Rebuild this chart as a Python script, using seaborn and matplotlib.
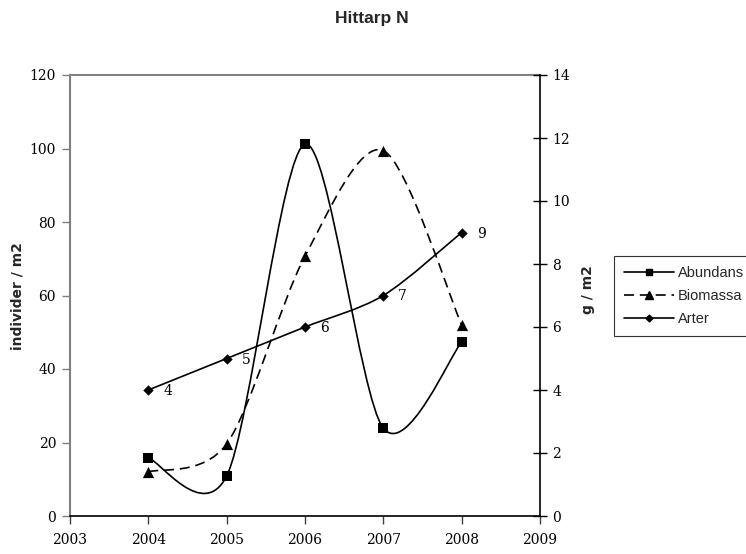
import numpy as np
import matplotlib
matplotlib.use("Agg")
import matplotlib.pyplot as plt
import seaborn as sns
from matplotlib.path import Path
from matplotlib.patches import PathPatch
from matplotlib.lines import Line2D

# ---- data ----
years = [2004, 2005, 2006, 2007, 2008]
abundans = [15.8, 10.9, 101.2, 23.9, 47.3]      # left axis (individer / m2)
biomassa = [1.40, 2.29, 8.25, 11.6, 6.06]       # right axis (g / m2)
arter = [4, 5, 6, 7, 9]                          # right axis
arter_labels = ["4", "5", "6", "7", "9"]
x_ticks = [2003, 2004, 2005, 2006, 2007, 2008, 2009]
left_ticks = [0, 20, 40, 60, 80, 100, 120]
right_ticks = [0, 2, 4, 6, 8, 10, 12, 14]
series_names = ["Abundans", "Biomassa", "Arter"]
title = "Hittarp N"

sns.set_theme(style="white")
plt.rcParams['font.family'] = ['DejaVu Sans']

W, H = 746, 554
fig = plt.figure(figsize=(W / 100, H / 100), dpi=100)
ax = fig.add_axes([70 / W, (H - 516) / H, 470 / W, 441 / H])
ax2 = ax.twinx()


def smooth_path(x, y, k=0.15):
    pts = np.column_stack([x, y]).astype(float)
    n = len(pts)
    verts = [pts[0]]
    codes = [Path.MOVETO]
    for i in range(n - 1):
        p0 = pts[i - 1] if i > 0 else pts[i]
        p1 = pts[i]
        p2 = pts[i + 1]
        p3 = pts[i + 2] if i + 2 < n else pts[i + 1]
        c1 = p1 + (p2 - p0) * k
        c2 = p2 - (p3 - p1) * k
        verts += [c1, c2, p2]
        codes += [Path.CURVE4] * 3
    return Path(verts, codes)


lw = 1.2
dash = (0, (6, 3.5))
ax.add_patch(PathPatch(smooth_path(years, abundans), fill=False, edgecolor='black', lw=lw))
ax2.add_patch(PathPatch(smooth_path(years, biomassa), fill=False, edgecolor='black', lw=lw,
                        linestyle=dash))
ax2.add_patch(PathPatch(smooth_path(years, arter), fill=False, edgecolor='black', lw=lw))

sns.scatterplot(x=years, y=abundans, marker='s', s=55, color='black', edgecolor='black',
                linewidth=0, ax=ax, zorder=5)
sns.scatterplot(x=years, y=biomassa, marker='^', s=65, color='black', edgecolor='black',
                linewidth=0, ax=ax2, zorder=5)
sns.scatterplot(x=years, y=arter, marker='D', s=28, color='black', edgecolor='black',
                linewidth=0, ax=ax2, zorder=5)

for xv, yv, lab in zip(years, arter, arter_labels):
    ax2.annotate(lab, (xv, yv), xytext=(15, -1), textcoords='offset pixels',
                 ha='left', va='center', fontsize=10, family='DejaVu Serif', color='black')

ax.set_xlim(2003, 2009)
ax.set_ylim(0, 120)
ax2.set_ylim(0, 14)
ax.set_xticks(x_ticks)
ax.set_xticklabels([str(t) for t in x_ticks])
ax.set_yticks(left_ticks)
ax2.set_yticks(right_ticks)
ax.grid(False)
ax2.grid(False)
ax.set_xlabel("")
ax.set_ylabel("")
ax2.set_ylabel("")

for lab in ax.get_xticklabels() + ax.get_yticklabels() + ax2.get_yticklabels():
    lab.set_family('DejaVu Serif')
    lab.set_fontsize(10)
    lab.set_color('black')

ax.tick_params(axis='x', direction='out', length=6, width=1, color='#404040', pad=6, bottom=True)
ax.tick_params(axis='y', direction='out', length=6, width=1, color='#808080', pad=4, left=True)
ax2.tick_params(axis='y', direction='inout', length=10, width=1, color='black', pad=4, right=True)

for s in ['top', 'left']:
    ax.spines[s].set_color('#808080')
    ax.spines[s].set_linewidth(1.5)
ax.spines['bottom'].set_color('black')
ax.spines['bottom'].set_linewidth(1.2)
ax.spines['right'].set_visible(False)
for s in ['top', 'left', 'bottom']:
    ax2.spines[s].set_visible(False)
ax2.spines['right'].set_color('black')
ax2.spines['right'].set_linewidth(1.2)

fig.text(372 / W, 1 - 19 / H, title, ha='center', va='center', fontsize=12.5,
         fontweight='bold', family=['Liberation Sans Narrow', 'Liberation Sans'])
fig.text(18 / W, 1 - 296 / H, "individer / m2", rotation=90, ha='center', va='center',
         fontsize=10, fontweight='bold')
fig.text(588 / W, 1 - 290 / H, "g / m2", rotation=90, ha='center', va='center',
         fontsize=10, fontweight='bold')

handles = [
    Line2D([], [], color='black', lw=lw, marker='s', markersize=5),
    Line2D([], [], color='black', lw=lw, marker='^', markersize=5.5, linestyle=dash),
    Line2D([], [], color='black', lw=lw, marker='D', markersize=3.5),
]
leg = fig.legend(handles, series_names, loc='upper left', bbox_to_anchor=(614 / W, 1 - 256 / H),
                 frameon=True, fancybox=False, edgecolor='black', borderaxespad=0,
                 handlelength=3.4, handletextpad=0.3, labelspacing=0.6, borderpad=0.7,
                 prop={'family': 'Liberation Sans', 'size': 10.5})
leg.get_frame().set_linewidth(0.8)

fig.savefig("out.png", dpi=100)
